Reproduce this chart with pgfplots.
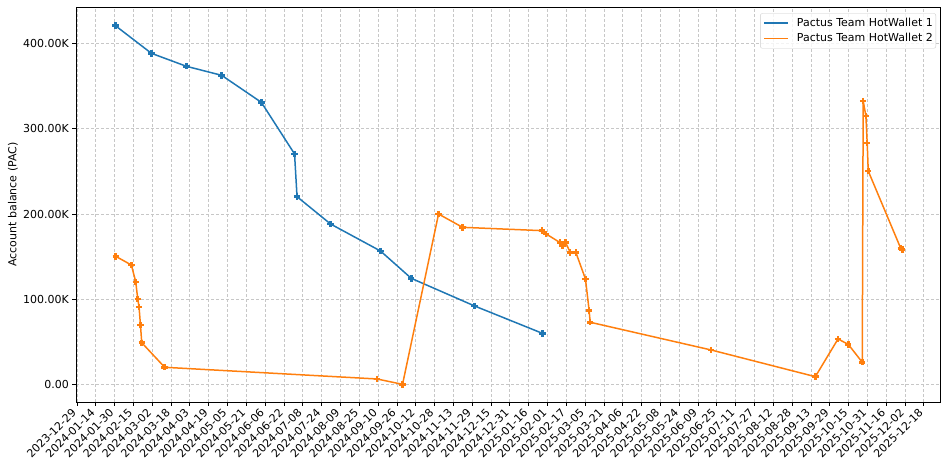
\documentclass[border=0pt]{standalone}
\usepackage{fontspec}
\setmainfont{DejaVu Sans}
\usepackage{pgfplots}
\pgfplotsset{compat=1.18}
\definecolor{tabblue}{HTML}{1F77B4}
\definecolor{taborange}{HTML}{FF7F0E}
\newcommand{\fs}{\fontsize{11bp}{13bp}\selectfont}
\begin{document}
\begin{tikzpicture}
\useasboundingbox (-76bp,-69bp) rectangle (872bp,402bp);
\begin{axis}[
  at={(0,0)}, anchor=south west,
  scale only axis, width=864bp, height=395bp,
  xmin=-0.8, xmax=733.7,
  ymin=-20300, ymax=442800,
  axis line style={black, line width=0.8bp},
  tick align=outside, major tick length=3.5bp,
  tick style={black, line width=0.8bp},
  xtick pos=left, ytick pos=left,
  /pgf/number format/assume math mode=true,
  scaled y ticks=false,
  xtick={0,16,...,720},
  xticklabels={2023-12-29,2024-01-14,2024-01-30,2024-02-15,2024-03-02,2024-03-18,2024-04-03,2024-04-19,2024-05-05,2024-05-21,2024-06-06,2024-06-22,2024-07-08,2024-07-24,2024-08-09,2024-08-25,2024-09-10,2024-09-26,2024-10-12,2024-10-28,2024-11-13,2024-11-29,2024-12-15,2024-12-31,2025-01-16,2025-02-01,2025-02-17,2025-03-05,2025-03-21,2025-04-06,2025-04-22,2025-05-08,2025-05-24,2025-06-09,2025-06-25,2025-07-11,2025-07-27,2025-08-12,2025-08-28,2025-09-13,2025-09-29,2025-10-15,2025-10-31,2025-11-16,2025-12-02,2025-12-18},
  ytick={0,100000,200000,300000,400000},
  yticklabels={0.00,100.00K,200.00K,300.00K,400.00K},
  tick label style={font=\fs},
  xticklabel style={xshift=-6bp, yshift=-2bp, rotate=45, anchor=north east, inner sep=0pt},
  yticklabel style={inner xsep=3.5bp, inner ysep=0pt},
  grid=major,
  major grid style={black!22, line width=0.8bp, dash pattern=on 3bp off 2bp},
  ylabel={Account balance (PAC)},
  ylabel style={font=\fs, at={(axis description cs:-0.0729,0.5)}, anchor=center, rotate=0},
  legend style={at={(axis description cs:1,1)}, anchor=north east, xshift=-4bp, yshift=-6.3bp,
    draw=black!20, rounded corners=2bp, fill=white, fill opacity=0.8, text opacity=1,
    font=\fs, inner xsep=3bp, inner ysep=2.2bp, row sep=0.4bp, column sep=0bp,
    nodes={inner xsep=0bp, inner ysep=2bp, text height=8.5bp, text depth=2.5bp},
    cells={anchor=west}},
  legend image code/.code={\draw[#1] (0bp,0bp) -- (24bp,0bp);},
  every axis plot/.append style={line width=1.5bp},
]
\addplot[tabblue, mark=+, mark size=3.2bp, mark options={line width=2.6bp, solid}] coordinates {
(32.7,420900) (63.3,388500) (93.0,373300) (123.0,362700) (156.8,331000)
(185.0,270500) (187.1,220400) (215.6,188400) (258.1,156700) (284.2,124700)
(338.0,92300) (395.7,60200)
};
\addlegendentry{\hspace{8bp}Pactus Team HotWallet 1\hspace{4bp}}
\addplot[taborange, mark=+, mark size=3.2bp, mark options={line width=2.6bp, solid}] coordinates {
(33.0,150500) (46.3,140300) (50.0,120400) (51.7,100500) (52.8,91100)
(54.0,70000) (55.1,49200) (74.6,20400) (255.1,6700) (276.8,400)
(307.4,200100) (327.8,184500) (395.2,180600) (398.9,176700) (410.8,166500)
(412.7,163000) (415.3,167000) (419.3,155200) (424.1,155200) (432.3,123900)
(435.4,87200) (436.3,73200) (539.1,40700) (627.7,9400) (647.0,53600)
(655.7,47300) (667.6,26300) (668.4,332600) (670.7,315000) (671.8,283400)
(672.7,250500) (700.3,159900) (701.6,158300)
};
\addlegendentry{\hspace{8bp}Pactus Team HotWallet 2\hspace{4bp}}
\end{axis}
\end{tikzpicture}
\end{document}
